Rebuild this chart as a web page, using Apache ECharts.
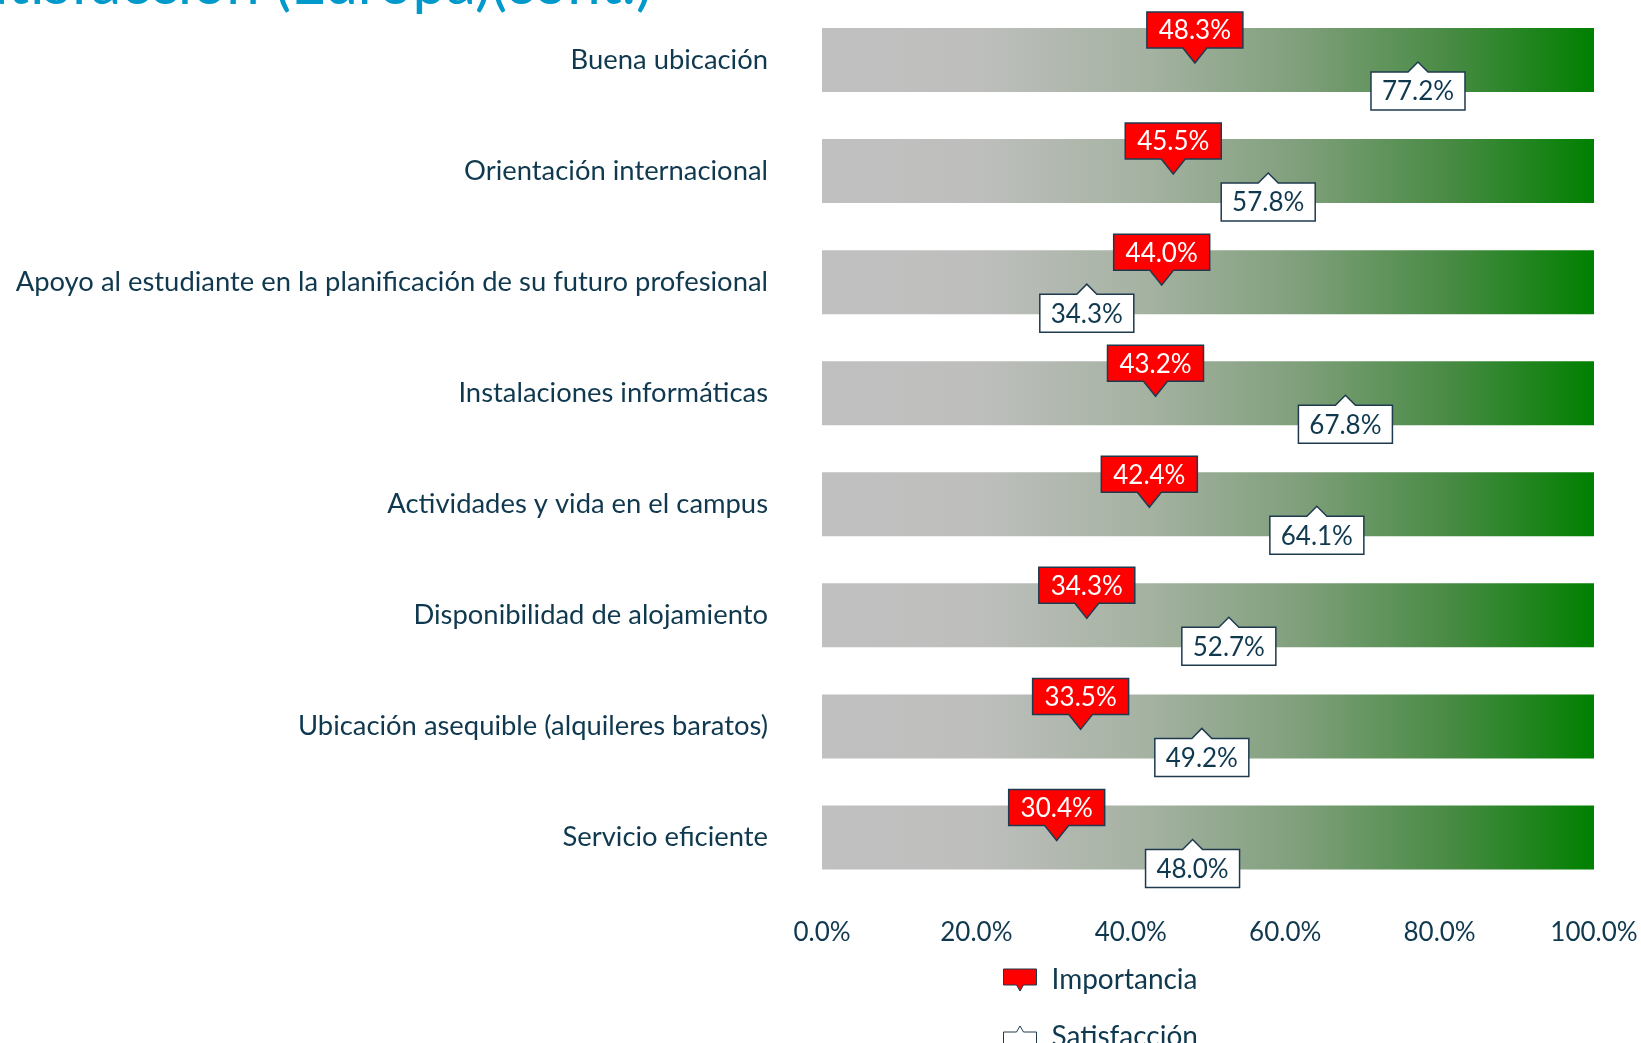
<!DOCTYPE html>
<html>
<head>
<meta charset="utf-8">
<script src="https://cdn.jsdelivr.net/npm/echarts@6/dist/echarts.min.js"></script>
<style>
html,body{margin:0;padding:0;background:#fff;}
#chart{width:1641px;height:1043px;}
</style>
</head>
<body>
<div id="chart"></div>
<script>
const categories = [
  'Buena ubicación',
  'Orientación internacional',
  'Apoyo al estudiante en la planificación de su futuro profesional',
  'Instalaciones informáticas',
  'Actividades y vida en el campus',
  'Disponibilidad de alojamiento',
  'Ubicación asequible (alquileres baratos)',
  'Servicio eficiente'
];
const importancia = [48.3, 45.5, 44.0, 43.2, 42.4, 34.3, 33.5, 30.4];
const satisfaccion = [77.2, 57.8, 34.3, 67.8, 64.1, 52.7, 49.2, 48.0];
const scaleMax = [100, 100, 100, 100, 100, 100, 100, 100];
const xTicks = [0, 20, 40, 60, 80, 100];

const FONT = 'Lato';
const TXT = '#10394f';
const EDGE = '#1f3a4f';

const chart = echarts.init(document.getElementById('chart'));

function impItem(params, api) {
  const v = api.value(0);
  const p = api.coord([v, api.value(1)]);
  const tx = p[0], ty = p[1] + 3;
  const w = 96, h = 36, ph = 15, pw = 12;
  const top = ty - ph - h, bot = ty - ph;
  return {
    type: 'group',
    children: [
      {type: 'polygon', shape: {points: [[tx - w/2, top], [tx + w/2, top], [tx + w/2, bot], [tx + pw, bot], [tx, ty], [tx - pw, bot], [tx - w/2, bot]]},
       style: {fill: '#ff0000', stroke: EDGE, lineWidth: 1.5}},
      {type: 'text', x: tx, y: top + h/2 + 1,
       style: {text: v.toFixed(1) + '%', fill: '#ffffff', font: '26px ' + FONT, textAlign: 'center', textVerticalAlign: 'middle'}}
    ]
  };
}
function satItem(params, api) {
  const v = api.value(0);
  const p = api.coord([v, api.value(1)]);
  const tx = p[0], ty = p[1] + 2;
  const w = 94, h = 38, ph = 10, pw = 10;
  const top = ty + ph, bot = ty + ph + h;
  return {
    type: 'group',
    children: [
      {type: 'polygon', shape: {points: [[tx - w/2, top], [tx - pw, top], [tx, ty], [tx + pw, top], [tx + w/2, top], [tx + w/2, bot], [tx - w/2, bot]]},
       style: {fill: '#ffffff', stroke: EDGE, lineWidth: 1.5}},
      {type: 'text', x: tx, y: top + h/2 + 1,
       style: {text: v.toFixed(1) + '%', fill: TXT, font: '26px ' + FONT, textAlign: 'center', textVerticalAlign: 'middle'}}
    ]
  };
}

const legendText = {fontSize: 28, color: TXT, fontFamily: FONT, padding: [0, 0, 0, 10]};

const option = {
  backgroundColor: '#ffffff',
  animation: false,
  textStyle: {fontFamily: FONT},
  graphic: [{
    type: 'text', x: 652, y: 14.5,
    style: {text: 'Importancia y satisfacción (Europa)(cont.)', font: '60px ' + FONT, fill: '#0099cc', textAlign: 'right', textVerticalAlign: 'bottom'}
  }],
  legend: [
    {
      orient: 'vertical', left: 998, top: 961,
      itemWidth: 33, itemHeight: 22,
      textStyle: legendText,
      data: [{name: 'Importancia', icon: 'path://M0,0 L33,0 L33,16 L20,16 L16.5,22 L13,16 L0,16 Z', itemStyle: {color: '#ff0000', borderColor: EDGE, borderWidth: 1}}]
    },
    {
      orient: 'vertical', left: 998, top: 1018,
      itemWidth: 33, itemHeight: 22,
      textStyle: legendText,
      data: [{name: 'Satisfacción', icon: 'path://M0,6 L13,6 L16.5,0 L20,6 L33,6 L33,22 L0,22 Z', itemStyle: {color: '#ffffff', borderColor: EDGE, borderWidth: 1}}]
    }
  ],
  grid: {left: 822, right: 47, top: 4.5, bottom: 150, containLabel: false, outerBoundsMode: 'none'},
  xAxis: {
    type: 'value', min: xTicks[0], max: xTicks[xTicks.length - 1], interval: 20,
    axisLine: {show: false}, axisTick: {show: false}, splitLine: {show: false},
    axisLabel: {margin: 27, fontSize: 26, color: TXT, fontFamily: FONT, formatter: v => v.toFixed(1) + '%'}
  },
  yAxis: {
    type: 'category', data: categories, inverse: true,
    axisLine: {show: false}, axisTick: {show: false}, splitLine: {show: false},
    axisLabel: {margin: 54, fontSize: 27.4, color: TXT, fontFamily: FONT}
  },
  series: [
    {
      name: 'escala', type: 'bar', data: scaleMax, barWidth: 64, silent: true, z: 1,
      itemStyle: {
        color: new echarts.graphic.LinearGradient(0, 0, 1, 0, [
          {offset: 0, color: '#c0c0c0'},
          {offset: 0.2, color: '#bebfbd'},
          {offset: 0.42, color: '#a5b2a2'},
          {offset: 0.62, color: '#7f9f7b'},
          {offset: 0.82, color: '#468a42'},
          {offset: 1, color: '#008000'}
        ])
      }
    },
    {
      name: 'Satisfacción', type: 'custom', z: 3, clip: false,
      itemStyle: {color: '#ffffff', borderColor: EDGE},
      renderItem: satItem,
      encode: {x: 0, y: 1},
      data: satisfaccion.map((v, i) => [v, i])
    },
    {
      name: 'Importancia', type: 'custom', z: 4, clip: false,
      itemStyle: {color: '#ff0000', borderColor: EDGE},
      renderItem: impItem,
      encode: {x: 0, y: 1},
      data: importancia.map((v, i) => [v, i])
    }
  ]
};
chart.setOption(option);
</script>
</body>
</html>
